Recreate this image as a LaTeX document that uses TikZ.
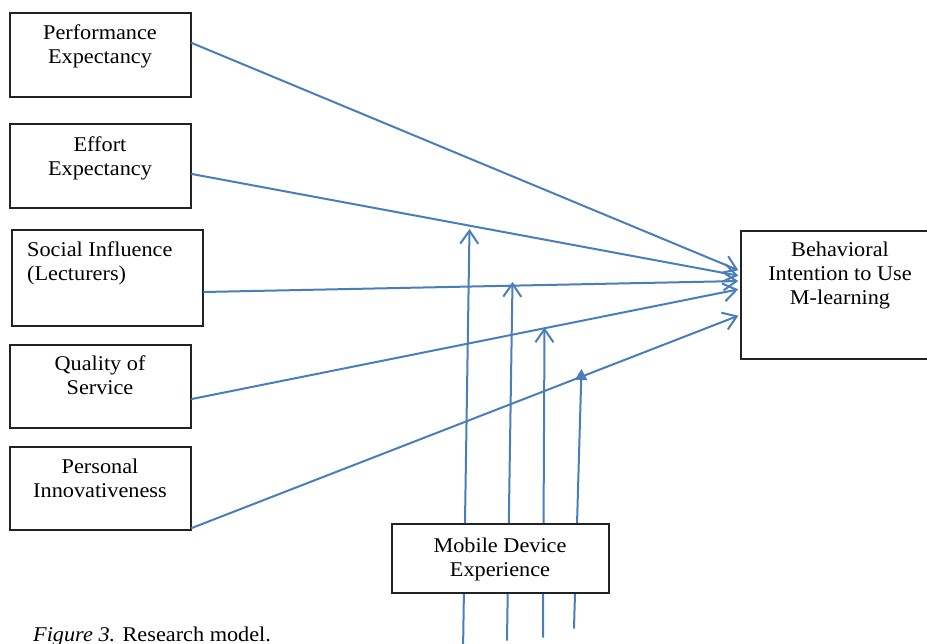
\documentclass[tikz,border=0pt]{standalone}
\usepackage{fontspec}
\setmainfont{Liberation Serif}[FakeStretch=1.06]
\usetikzlibrary{arrows.meta}
\definecolor{linkblue}{RGB}{74,126,187}
\definecolor{boxgrey}{RGB}{35,35,35}
\begin{document}
\begin{tikzpicture}[x=1pt,y=-1pt,
  box/.style={draw=boxgrey, line width=1.6pt, fill=white, inner sep=0pt},
  lbl/.style={inner sep=0pt, align=center, anchor=base, font=\fontsize{21}{24}\selectfont},
  link/.style={draw=linkblue, line width=2pt, line cap=round,
    -{Straight Barb[length=13pt,width=18pt,line join=miter]}},
  solidlink/.style={draw=linkblue, line width=2pt, line cap=round,
    -{Triangle[length=11pt,width=12pt]}}]
\useasboundingbox (0,0) rectangle (927,644);
\clip (0,0) rectangle (927,644);

% moderator lines, running up behind the Mobile Device Experience box
\coordinate (b1) at (463,652);
\coordinate (b2) at (507,640);
\coordinate (b3) at (543,637);
\coordinate (b4) at (574,628);
\coordinate (m1) at (469.5,229);
\coordinate (m2) at (512.5,282);
\coordinate (m3) at (544.5,327.5);
\coordinate (m4) at (581.5,369);
\draw[link] (b1) -- (m1);
\draw[link] (b2) -- (m2);
\draw[link] (b3) -- (m3);
\draw[solidlink] (b4) -- (m4);

% boxes
\node[box, minimum width=181pt, minimum height=84pt] (pe) at (100.5,55) {};
\node[box, minimum width=181pt, minimum height=84pt] (ee) at (100.5,166) {};
\node[box, minimum width=191pt, minimum height=96pt] (si) at (107.5,278) {};
\node[box, minimum width=181pt, minimum height=83pt] (qs) at (100.5,386.5) {};
\node[box, minimum width=181pt, minimum height=83pt] (pi) at (100.5,488.5) {};
\node[box, minimum width=199pt, minimum height=128pt] (bi) at (840.5,295) {};
\node[box, minimum width=217pt, minimum height=69pt] (md) at (500.5,558.5) {};

% labels (base anchor sits on the last line)
\node[lbl] (pe-t) at (100,64) {Performance\\Expectancy};
\node[lbl] (ee-t) at (100,176) {Effort\\Expectancy};
\node[lbl, align=left, anchor=base west] (si-t) at (27,281) {Social Influence\\(Lecturers)};
\node[lbl] (qs-t) at (100,395) {Quality of\\Service};
\node[lbl] (pi-t) at (100,497) {Personal\\Innovativeness};
\node[lbl] (bi-t) at (840,305) {Behavioral\\Intention to Use\\M-learning};
\node[lbl] (md-t) at (500,576) {Mobile Device\\Experience};

% paths into Behavioral Intention
\draw[link, shorten >=2pt] ([yshift=12pt]pe.east) -- ([yshift=24pt]bi.west);
\draw[link, shorten >=2pt] ([yshift=-8pt]ee.east) -- ([yshift=19pt]bi.west);
\draw[link, shorten >=2pt] ([yshift=-14pt]si.east) -- ([yshift=14pt]bi.west);
\draw[link, shorten >=2pt] ([yshift=-12.5pt]qs.east) -- ([yshift=6pt]bi.west);
\draw[link, shorten >=2pt] ([yshift=-39.5pt]pi.east) -- ([yshift=-20pt]bi.west);

% caption
\node[anchor=base west, inner sep=0pt, font=\fontsize{21}{24}\selectfont] (cap) at (33,641)
  {\textit{Figure 3.} Research model.};
\end{tikzpicture}
\end{document}
